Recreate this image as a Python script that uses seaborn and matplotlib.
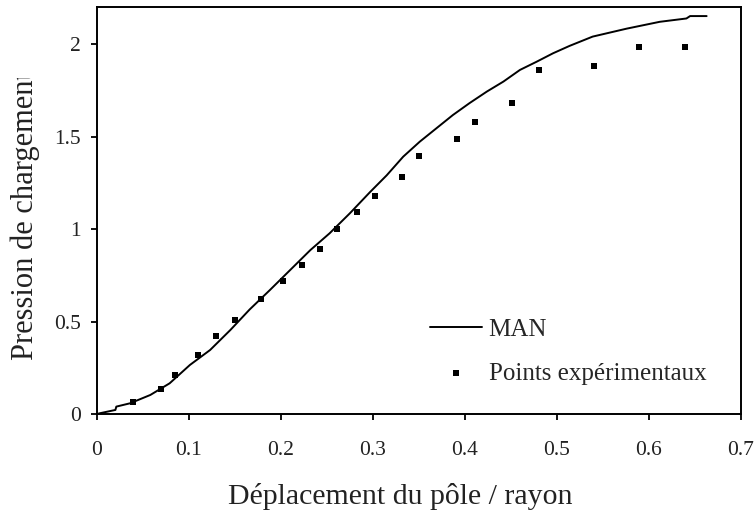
import numpy as np
import pandas as pd
import seaborn as sns
import matplotlib.pyplot as plt
from matplotlib.transforms import Bbox, TransformedBbox

# MAN curve
man_x = [0, 0.003, 0.02, 0.021, 0.036, 0.058, 0.079, 0.101, 0.123, 0.145, 0.166,
         0.188, 0.21, 0.232, 0.253, 0.275, 0.297, 0.315, 0.333, 0.351, 0.369,
         0.387, 0.405, 0.424, 0.442, 0.46, 0.478, 0.496, 0.514, 0.539, 0.576,
         0.612, 0.641, 0.645, 0.663]
man_y = [0, 0.004, 0.022, 0.04, 0.058, 0.103, 0.166, 0.265, 0.346, 0.454, 0.565,
         0.67, 0.778, 0.886, 0.977, 1.085, 1.2, 1.29, 1.391, 1.472, 1.544,
         1.616, 1.68, 1.743, 1.797, 1.86, 1.904, 1.95, 1.99, 2.04, 2.083,
         2.12, 2.138, 2.151, 2.151]

# experimental points
exp_x = [0.039, 0.07, 0.085, 0.11, 0.129, 0.15, 0.178, 0.202, 0.223, 0.242, 0.261,
         0.283, 0.302, 0.332, 0.35, 0.392, 0.411, 0.451, 0.481, 0.541, 0.589, 0.639]
exp_y = [0.065, 0.135, 0.21, 0.32, 0.42, 0.51, 0.62, 0.72, 0.805, 0.89, 1.0,
         1.09, 1.18, 1.28, 1.395, 1.485, 1.58, 1.68, 1.86, 1.88, 1.985, 1.985]

xticks = [0, 0.1, 0.2, 0.3, 0.4, 0.5, 0.6, 0.7]
xticklabels = ["0", "0.1", "0.2", "0.3", "0.4", "0.5", "0.6", "0.7"]
yticks = [0, 0.5, 1, 1.5, 2]
yticklabels = ["0", "0.5", "1", "1.5", "2"]

sns.set_style("ticks")
plt.rcParams["font.family"] = ["Liberation Serif", "DejaVu Serif"]

fig = plt.figure(figsize=(7.55, 5.23), dpi=100)
ax = fig.add_axes([0.1285, 0.2084, 0.8525, 0.7782])

man = pd.DataFrame({"x": man_x, "y": man_y})
pts = pd.DataFrame({"x": exp_x, "y": exp_y})
sns.lineplot(data=man, x="x", y="y", ax=ax, color="black", linewidth=1.4,
             label="MAN", sort=False)
sns.scatterplot(data=pts, x="x", y="y", ax=ax, color="black", marker="s", s=18,
                edgecolor="black", linewidth=0, label="Points expérimentaux")

ax.set_xlim(0, 0.7)
ax.set_ylim(0, 2.2)
ax.set_xticks(xticks)
ax.set_xticklabels(xticklabels)
ax.set_yticks(yticks)
ax.set_yticklabels(yticklabels)
ax.tick_params(direction="out", length=4.5, width=1.3, labelsize=15.5,
               colors="black", labelcolor="#222222")
ax.tick_params(axis="y", pad=7)
ax.tick_params(axis="x", pad=15)
for sp in ax.spines.values():
    sp.set_visible(True)
    sp.set_linewidth(1.4)
    sp.set_color("black")

ax.set_xlabel("")
ax.set_ylabel("")
fig.text(400 / 755, 1 - 497 / 523, "Déplacement du pôle / rayon", ha="center", va="center",
         fontsize=21.5, color="#222222")
ylab = fig.text(25 / 755, 1 - 360 / 523, "Pression de chargement", rotation=90,
                ha="center", va="bottom", fontsize=22, color="#222222")
# the original label is cut off near the top
ylab.set_clip_box(TransformedBbox(Bbox([[0, 0], [0.2, 1 - 78 / 523]]), fig.transFigure))
ylab.set_clip_on(True)

ax.legend(loc="upper left", bbox_to_anchor=(0.517, 0.235), frameon=False,
          fontsize=18, handlelength=2.1, handletextpad=0.25, labelspacing=0.85,
          borderpad=0, borderaxespad=0, markerscale=1.1)

fig.savefig("out.png", dpi=100)
